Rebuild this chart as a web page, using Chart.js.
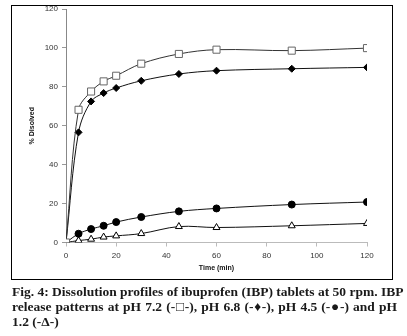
<!DOCTYPE html>
<html>
<head>
<meta charset="utf-8">
<script src="https://cdn.jsdelivr.net/npm/chart.js@4"></script>
<style>
    body { margin: 0; background: #fff; width: 407px; height: 336px; overflow: hidden; position: relative; }
    #chartBox { position: absolute; left: 0; top: 0; width: 407px; height: 285px; }
    #frame { position: absolute; left: 11px; top: 5px; width: 380px; height: 273px; border: 1px solid #000; pointer-events: none; }
    #caption { position: absolute; left: 12px; top: 284px; width: 385px; font-family: "Liberation Serif", serif; font-weight: bold; font-size: 13.5px; line-height: 15px; color: #1a1a1a; }
    #caption div { text-align: justify; text-align-last: justify; white-space: nowrap; }
    #caption div.last { text-align-last: left; }
</style>
</head>
<body>
<div id="chartBox"><canvas id="dissolutionChart" width="407" height="285"></canvas></div>
<div id="frame"></div>
<div id="caption">
    <div>Fig. 4: Dissolution profiles of ibuprofen (IBP) tablets at 50 rpm. IBP</div>
    <div>release patterns at pH 7.2 (-□-), pH 6.8 (-♦-), pH 4.5 (-●-) and pH</div>
    <div class="last">1.2 (-Δ-)</div>
</div>
<script>
let timePoints = [0, 5, 10, 15, 20, 30, 45, 60, 90, 120];
let ph72 = [0, 68.2, 77.6, 82.8, 85.7, 91.9, 96.9, 99.1, 98.6, 99.9];
let ph68 = [0, 56.6, 72.5, 76.8, 79.4, 83.1, 86.6, 88.3, 89.3, 90.0];
let ph45 = [0, 4.5, 6.9, 8.6, 10.5, 13.1, 16.0, 17.5, 19.5, 20.8];
let ph12 = [0, 1.0, 1.7, 2.8, 3.4, 4.6, 8.2, 7.7, 8.6, 9.8];
let xTicks = [0, 20, 40, 60, 80, 100, 120];
let yTicks = [0, 20, 40, 60, 80, 100, 120];

function toPoints(values) {
    return values.map((v, i) => ({ x: timePoints[i], y: v }));
}

let tickFont = { family: 'Arial, "Liberation Sans", sans-serif', size: 8 };
let titleFont = { family: 'Arial, "Liberation Sans", sans-serif', size: 7, weight: 'bold' };

let ctx = document.getElementById('dissolutionChart').getContext('2d');
let chartInstance = new Chart(ctx, {
    type: 'scatter',
    data: {
        datasets: [
            {
                label: 'pH 7.2',
                data: toPoints(ph72),
                showLine: true,
                borderColor: '#333',
                borderWidth: 1,
                pointStyle: 'rect',
                pointRadius: 5,
                pointBorderColor: '#666',
                pointBackgroundColor: '#fff',
                pointBorderWidth: 1
            },
            {
                label: 'pH 6.8',
                data: toPoints(ph68),
                showLine: true,
                borderColor: '#111',
                borderWidth: 1,
                pointStyle: 'rectRot',
                pointRadius: 3.5,
                pointBorderColor: '#000',
                pointBackgroundColor: '#000'
            },
            {
                label: 'pH 4.5',
                data: toPoints(ph45),
                showLine: true,
                borderColor: '#111',
                borderWidth: 1,
                pointStyle: 'circle',
                pointRadius: 3.5,
                pointBorderColor: '#000',
                pointBackgroundColor: '#000'
            },
            {
                label: 'pH 1.2',
                data: toPoints(ph12),
                showLine: true,
                borderColor: '#111',
                borderWidth: 1,
                pointStyle: 'triangle',
                pointRadius: 4,
                pointBorderColor: '#000',
                pointBackgroundColor: '#fff',
                pointBorderWidth: 1
            }
        ]
    },
    options: {
        responsive: false,
        animation: false,
        elements: { line: { tension: 0.35 } },
        layout: { padding: { left: 28, right: 40, top: 9, bottom: 13 } },
        plugins: { legend: { display: false }, tooltip: { enabled: false } },
        scales: {
            x: {
                type: 'linear',
                min: 0,
                max: 120,
                afterBuildTicks: scale => { scale.ticks = xTicks.map(v => ({ value: v })); },
                afterFit: scale => { scale.height = 29.5; },
                grid: { drawOnChartArea: false, tickLength: 4, color: '#bbb' },
                border: { color: '#bbb' },
                ticks: { font: tickFont, color: '#333', padding: 4, maxRotation: 0 },
                title: { display: true, text: 'Time (min)', font: titleFont, color: '#111', padding: 0 }
            },
            y: {
                min: 0,
                max: 120,
                afterBuildTicks: scale => { scale.ticks = yTicks.map(v => ({ value: v })); },
                afterFit: scale => { scale.width = 38; },
                grid: { drawOnChartArea: false, tickLength: 4, color: '#999' },
                border: { color: '#888' },
                ticks: { font: tickFont, color: '#333', padding: 4 },
                title: { display: true, text: '% Disolved', font: titleFont, color: '#111', padding: 0 }
            }
        }
    }
});
</script>
</body>
</html>
